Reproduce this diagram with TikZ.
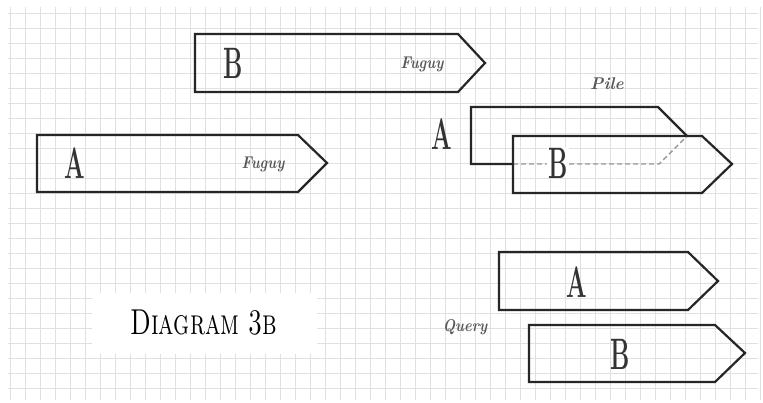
\documentclass[tikz,border=0pt]{standalone}
\usepackage{graphicx}
\begin{document}
\begin{tikzpicture}[x=1pt,y=-1pt,
  gridline/.style={draw=black!12,line width=0.6pt},
  tag/.style={draw=black!85,line width=2.2pt,line join=miter},
  hidden/.style={draw=black!40,line width=1.4pt,dash pattern=on 5pt off 3pt},
  big/.style={font=\fontsize{44}{44}\selectfont\bfseries,text=black!80,inner sep=0pt},
  lbl/.style={font=\fontsize{17}{17}\selectfont\itshape\bfseries,text=black!65,inner sep=0pt},
  titlebox/.style={fill=white,draw=none,minimum width=225pt,minimum height=61pt,inner sep=0pt}]
\useasboundingbox (0,0) rectangle (763,402);
\fill[white] (0,0) rectangle (763,402);
% grid
\foreach \gx in {10,25,...,760} \draw[gridline] (\gx,7) -- (\gx,400);
\foreach \gy in {13,28,...,400} \draw[gridline] (8,\gy) -- (758,\gy);
% top B tag
\draw[tag] (195,34) -- (458,34) -- (485,63) -- (458,92) -- (195,92) -- cycle;
\node[big] (tb) at (233,63) {\scalebox{0.55}[1]{B}};
\node[lbl] (tf) at (422,64) {\scalebox{0.85}[1]{Fuguy}};
% left A tag
\draw[tag] (37,135) -- (298,135) -- (327,163) -- (298,192) -- (37,192) -- cycle;
\node[big] (la) at (75,163) {\scalebox{0.55}[1]{A}};
\node[lbl] (lf) at (263,164) {\scalebox{0.85}[1]{Fuguy}};
% pile: A behind B
\draw[tag] (513,164) -- (471,164) -- (471,107) -- (658,107) -- (687,136);
\draw[hidden] (513,164) -- (659,164) -- (687,136);
\draw[tag] (513,136) -- (702,136) -- (732,164) -- (702,193) -- (513,193) -- cycle;
\node[big] (pa) at (442,134) {\scalebox{0.55}[1]{A}};
\node[big,fill=white,inner xsep=1pt] (pb) at (558,163) {\scalebox{0.55}[1]{B}};
\node[lbl] (pl) at (607,84) {Pile};
% query: A and B
\draw[tag] (499,252) -- (688,252) -- (718,281) -- (688,310) -- (499,310) -- cycle;
\node[big] (qa) at (577,282) {\scalebox{0.55}[1]{A}};
\draw[tag] (529,325) -- (715,325) -- (745,353) -- (715,382) -- (529,382) -- cycle;
\node[big] (qb) at (620,354) {\scalebox{0.55}[1]{B}};
\node[lbl] (ql) at (465,327) {\scalebox{0.85}[1]{Query}};
% title
\node[titlebox] (tt) at (204.5,323.5) {};
\node[font=\fontsize{36}{36}\selectfont\scshape,inner sep=0pt] (ttx) at (204,323) {\scalebox{0.7}[1]{Diagram 3b}};
\end{tikzpicture}
\end{document}
